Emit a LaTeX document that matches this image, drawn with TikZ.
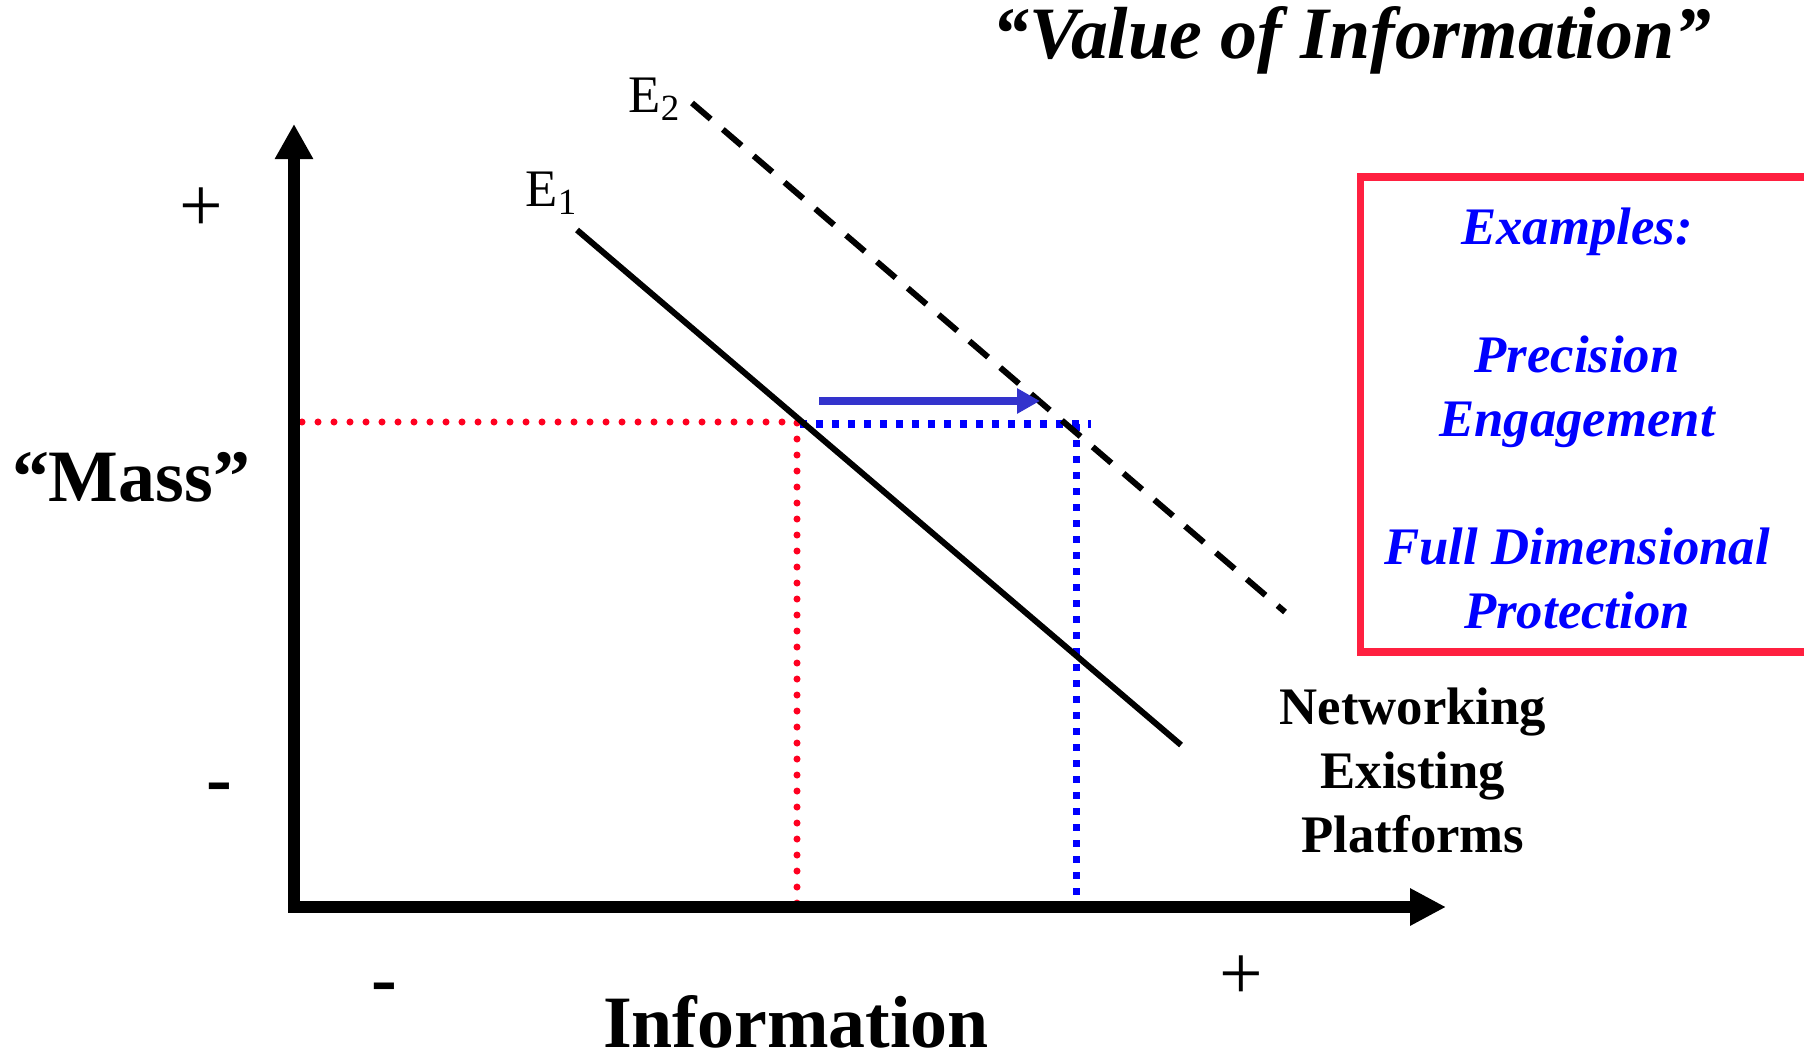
\documentclass[tikz,border=0pt]{standalone}
\usepackage{fontspec}
\setmainfont{Liberation Serif}
\usepackage{xcolor}
\usetikzlibrary{arrows.meta}

\definecolor{boxred}{RGB}{255,32,64}
\definecolor{dotred}{RGB}{255,0,32}
\definecolor{shiftblue}{RGB}{51,51,204}

\begin{document}
\begin{tikzpicture}[x=0.01cm, y=-0.01cm, every node/.style={font=\fontsize{21}{25}\selectfont\bfseries}]
  \useasboundingbox (0,0) rectangle (1804,1061);
  \coordinate (o) at (294,907);
  \coordinate (ytop) at (294,124);
  \coordinate (xend) at (1446,907);
  \coordinate (r0) at (302,422);
  \coordinate (m1) at (797,422);
  \coordinate (m2) at (1076,424);
  \coordinate (b0) at (800,424);
  \coordinate (b1) at (1091,424);
  \coordinate (s0) at (819,401);
  \coordinate (s1) at (1040,401);
  \coordinate (e1a) at (577,230);
  \coordinate (e1b) at (1181,745);
  \coordinate (e2a) at (692,103);
  \coordinate (e2b) at (1285,612);
  % dotted guides first, axes on top
  \draw[dotred, line width=2pt, line cap=round, dash pattern=on 0pt off 4.55pt] (r0) -- (m1) -- (m1 |- o);
  \draw[blue, line width=2pt, dash pattern=on 2pt off 2.55pt] (b0) -- (b1);
  \draw[blue, line width=2pt, dash pattern=on 2pt off 2.55pt] (m2) -- (m2 |- o);
  \draw[line width=1.7pt] (e1a) -- (e1b);
  \draw[line width=1.7pt, dash pattern=on 7pt off 4.55pt] (e2a) -- (e2b);
  \draw[shiftblue, line width=2pt, -{Triangle[length=2.3mm,width=2.4mm]}] (s0) -- (s1);
  \draw[line width=3.4pt, {Triangle[length=3.5mm,width=3.6mm]}-{Triangle[length=3.6mm,width=3.5mm]}] (ytop) -- (o) -- (xend);
  \node[font=\fontsize{15}{18}\selectfont, anchor=base west, inner sep=0pt] (lblE1) at (525,207) {E\textsubscript{1}};
  \node[font=\fontsize{15}{18}\selectfont, anchor=base west, inner sep=0pt] (lblE2) at (628,113) {E\textsubscript{2}};
  \foreach \x/\y/\s/\nm in {201/210/{\mdseries +}/yplus,219/794/-/yminus,384/994/-/xminus,1241/978/{\mdseries +}/xplus} {
    \node[font=\fontsize{22}{26}\selectfont\bfseries] (\nm) at (\x,\y) {\s};
  }
  \node (mass) at (131,477) {“Mass”};
  \node[anchor=base, inner sep=0pt] (info) at (796,1047) {Information};
  \node[font=\fontsize{21}{25}\selectfont\bfseries\itshape] (title) at (1352,40) {“Value of Information”};
  \draw[boxred, line width=2pt] (1804,177) -- (1360,177) -- (1360,652) -- (1804,652);
  \node[blue, align=center, font=\fontsize{15}{18.2}\selectfont\bfseries\itshape] (examples) at (1577,418)
    {Examples:\\[18.2pt]Precision\\Engagement\\[18.2pt]Full Dimensional\\Protection};
  \node[align=center, font=\fontsize{15}{18.2}\selectfont\bfseries] (network) at (1413,770)
    {Networking\\Existing\\Platforms};
\end{tikzpicture}
\end{document}
